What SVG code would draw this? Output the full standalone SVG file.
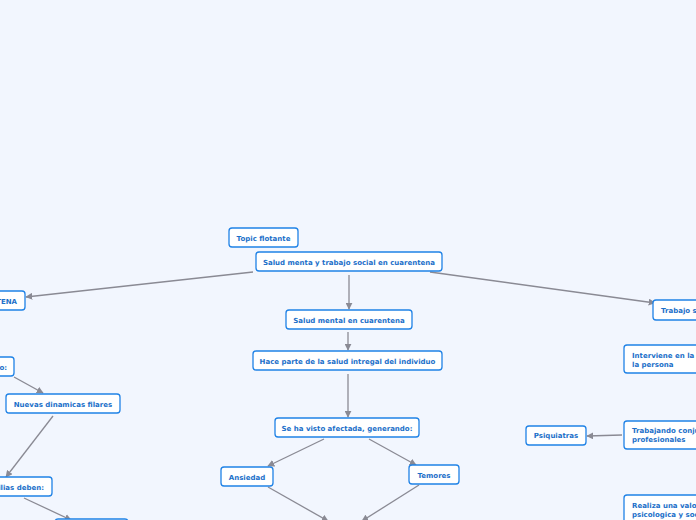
<svg xmlns="http://www.w3.org/2000/svg" width="696" height="520" viewBox="0 0 696 520">
<defs>
<marker id="ah" viewBox="0 0 10 10" refX="9" refY="5" markerWidth="7" markerHeight="7" markerUnits="userSpaceOnUse" orient="auto">
<path d="M0,0 L10,5 L0,10 z" fill="#8a8a94"/>
</marker>
<style>
.n rect{fill:#ffffff;stroke:#1f82e6;stroke-width:1.3}
.n text{font-family:"DejaVu Sans",Verdana,sans-serif;font-weight:bold;font-size:7px;fill:#1b6fc9}
.c line{stroke:#8a8a94;stroke-width:1.3;marker-end:url(#ah)}
</style>
</defs>
<rect width="696" height="520" fill="#f2f6fe"/>
<g class="c">
<line x1="253" y1="272" x2="26" y2="297"/>
<line x1="349" y1="275" x2="349" y2="309"/>
<line x1="430" y1="272" x2="655" y2="303"/>
<line x1="348" y1="332" x2="348" y2="350"/>
<line x1="348" y1="374" x2="348" y2="417"/>
<line x1="324" y1="439" x2="268" y2="466"/>
<line x1="369" y1="439" x2="416" y2="465"/>
<line x1="268" y1="487" x2="328" y2="521"/>
<line x1="419" y1="485" x2="362" y2="521"/>
<line x1="14" y1="377" x2="43" y2="393"/>
<line x1="53" y1="416" x2="6" y2="477"/>
<line x1="24" y1="498" x2="71" y2="520"/>
<line x1="622" y1="435" x2="587" y2="436"/>
</g>
<g id="topic" class="n"><rect x="229" y="228" width="69" height="19" rx="3"/><text x="263.5" y="240.5" text-anchor="middle">Topic flotante</text></g>
<g id="main" class="n"><rect x="256" y="252" width="186" height="19" rx="3"/><text x="349" y="264.5" text-anchor="middle">Salud menta y trabajo social en cuarentena</text></g>
<g id="smc" class="n"><rect x="286" y="310" width="126" height="19" rx="3"/><text x="349" y="322.5" text-anchor="middle">Salud mental en cuarentena</text></g>
<g id="hace" class="n"><rect x="253" y="351" width="189" height="19" rx="3"/><text x="347.5" y="363.5" text-anchor="middle">Hace parte de la salud intregal del individuo</text></g>
<g id="sehavisto" class="n"><rect x="275" y="418" width="144" height="19" rx="3"/><text x="347" y="430.5" text-anchor="middle">Se ha visto afectada, generando:</text></g>
<g id="ansiedad" class="n"><rect x="221" y="467" width="52" height="19" rx="3"/><text x="247" y="479.5" text-anchor="middle">Ansiedad</text></g>
<g id="temores" class="n"><rect x="409" y="465" width="50" height="19" rx="3"/><text x="434" y="477.5" text-anchor="middle">Temores</text></g>
<g id="left1" class="n"><rect x="-120" y="291" width="145" height="19" rx="3"/><text x="17" y="303.5" text-anchor="end">SALUD MENTAL EN CUARENTENA</text></g>
<g id="left2" class="n"><rect x="-120" y="357" width="134" height="19" rx="3"/><text x="7" y="369.5" text-anchor="end">Se ha visto afectada, generando:</text></g>
<g id="nuevas" class="n"><rect x="6" y="394" width="114" height="19" rx="3"/><text x="63" y="406.5" text-anchor="middle">Nuevas dinamicas filares</text></g>
<g id="familias" class="n"><rect x="-120" y="477" width="172" height="19" rx="3"/><text x="44" y="489.5" text-anchor="end">Las familias deben:</text></g>
<g id="bottom" class="n"><rect x="55" y="519" width="73" height="19" rx="3"/></g>
<g id="trabajo" class="n"><rect x="653" y="300" width="100" height="20" rx="3"/><text x="661" y="313">Trabajo social</text></g>
<g id="interviene" class="n"><rect x="624" y="345" width="120" height="28" rx="3"/><text x="632" y="357.5">Interviene en la salud de</text><text x="632" y="366.5">la persona</text></g>
<g id="psiq" class="n"><rect x="526" y="426" width="60" height="19" rx="3"/><text x="556" y="438" text-anchor="middle">Psiquiatras</text></g>
<g id="trabajando" class="n"><rect x="624" y="421" width="120" height="28" rx="3"/><text x="632" y="432.5">Trabajando conjuntamente</text><text x="632" y="441.5">profesionales</text></g>
<g id="realiza" class="n"><rect x="624" y="495" width="120" height="40" rx="3"/><text x="632" y="507.5">Realiza  una valoración</text><text x="632" y="516.5">psicologica y social</text></g>
</svg>
